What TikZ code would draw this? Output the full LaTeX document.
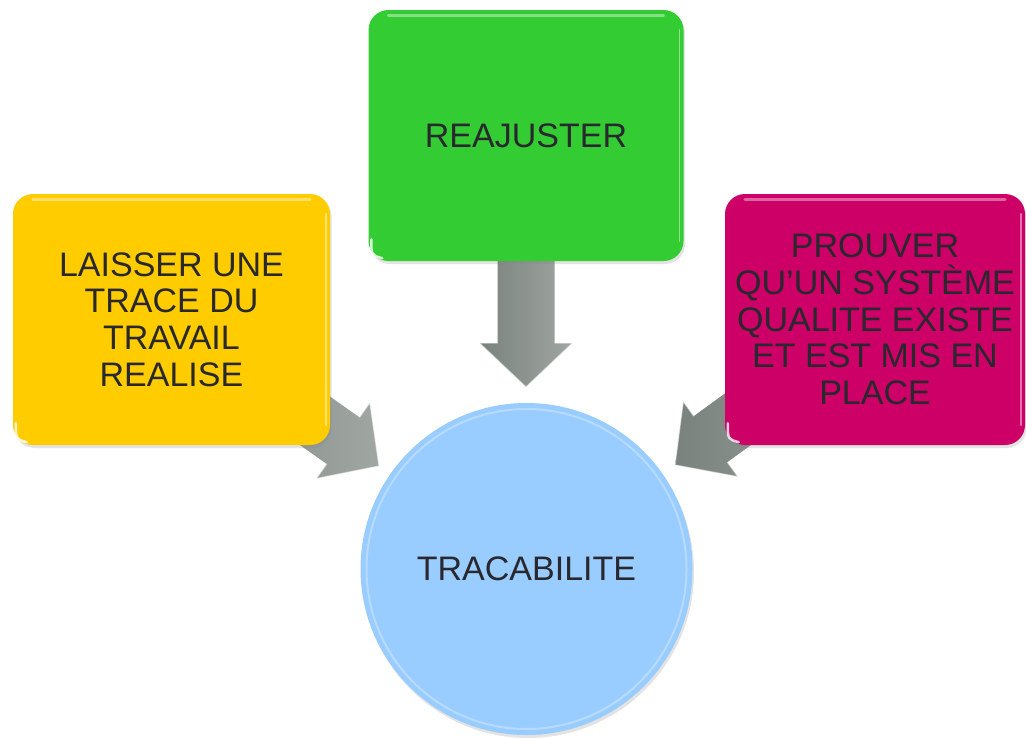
\documentclass[tikz,border=0pt]{standalone}
\usepackage{fontspec}
\setmainfont{Liberation Sans}
\usetikzlibrary{calc,shadows}
\definecolor{boxgreen}{RGB}{51,204,51}
\definecolor{boxyellow}{RGB}{255,204,0}
\definecolor{boxmagenta}{RGB}{204,0,102}
\definecolor{circblue}{RGB}{153,204,255}
\definecolor{txt}{RGB}{40,40,46}
\definecolor{arrgray}{RGB}{146,154,150}
\definecolor{arrdark}{RGB}{122,130,126}
\definecolor{arrlight}{RGB}{160,167,163}
\tikzset{
  card/.style={rectangle, rounded corners=20pt, minimum height=251pt, inner sep=0pt,
    align=center, text=txt, font=\fontsize{34}{36.7}\selectfont,
    drop shadow={shadow xshift=1.5pt, shadow yshift=-3pt, opacity=0.22}},
  hub/.style={circle, minimum size=332pt, inner sep=0pt, fill=circblue, text=txt,
    font=\fontsize{34}{36.7}\selectfont,
    drop shadow={shadow xshift=1.5pt, shadow yshift=-3pt, opacity=0.22}},
  blockarrow/.style={left color=arrdark, right color=arrlight},
  bevel/.style={draw=white, opacity=0.55, line width=1.2pt, line join=round}
}
% #1 start node/coordinate, #2 tip coordinate
\newcommand\blockarr[2]{%
  \coordinate (ah) at ($(#2)!44pt!(#1)$);
  \shade[blockarrow]
    ($(#1)!28.5pt!90:(#2)$) -- ($(ah)!28.5pt!90:(#2)$) -- ($(ah)!46.5pt!90:(#2)$) --
    (#2) -- ($(ah)!46.5pt!-90:(#2)$) -- ($(ah)!28.5pt!-90:(#2)$) --
    ($(#1)!28.5pt!-90:(#2)$) -- cycle;
  \draw[bevel] ($(ah)!28.5pt!90:(#2)$) -- ($(ah)!46.5pt!90:(#2)$) -- (#2)
    -- ($(ah)!46.5pt!-90:(#2)$) -- ($(ah)!28.5pt!-90:(#2)$);
}
\newcommand\boxgloss[1]{%
  \draw[white, opacity=0.4, line width=3pt, line cap=round]
    ($(#1.north west)+(20,6)$) -- ($(#1.north east)+(-20,6)$);
  \draw[white, opacity=0.45, line width=1.5pt, line cap=round]
    ($(#1.north east)+(-4,20)$) -- ($(#1.south east)+(-4,-20)$);
  \draw[white, opacity=0.8, line width=2.5pt, line cap=round]
    ($(#1.south west)+(3,-22)$) .. controls ($(#1.south west)+(3,-6)$) .. ($(#1.south west)+(14,-3)$);
}
\begin{document}
\begin{tikzpicture}[x=1pt, y=-1pt]
  \useasboundingbox (0,0) rectangle (1026,737);
  \fill[white] (0,0) rectangle (1026,737);
  % anchor coordinates
  \coordinate (gC) at (526,135.5);
  \coordinate (yC) at (171.5,319.5);
  \coordinate (mC) at (875,319.5);
  \coordinate (tipG) at (526,387);
  \coordinate (tipY) at (379,466);
  \coordinate (tipM) at (675,465);
  % arrows (under the boxes)
  \blockarr{gC}{tipG}
  \blockarr{yC}{tipY}
  \blockarr{mC}{tipM}
  % boxes
  \node[card, fill=boxgreen, minimum width=315pt] (g) at (gC) {REAJUSTER};
  \node[card, fill=boxyellow, minimum width=317pt] (y) at (yC)
    {LAISSER UNE\\TRACE DU\\TRAVAIL\\REALISE};
  \node[card, fill=boxmagenta, minimum width=300pt] (m) at (mC)
    {PROUVER\\QU’UN SYSTÈME\\QUALITE EXISTE\\ET EST MIS EN\\PLACE};
  \boxgloss{g}
  \boxgloss{y}
  \boxgloss{m}
  % hub
  \node[hub] (c) at (526.5,569) {TRACABILITE};
  \draw[white, opacity=0.3, line width=2pt] (c.center) circle[radius=160pt];
\end{tikzpicture}
\end{document}
